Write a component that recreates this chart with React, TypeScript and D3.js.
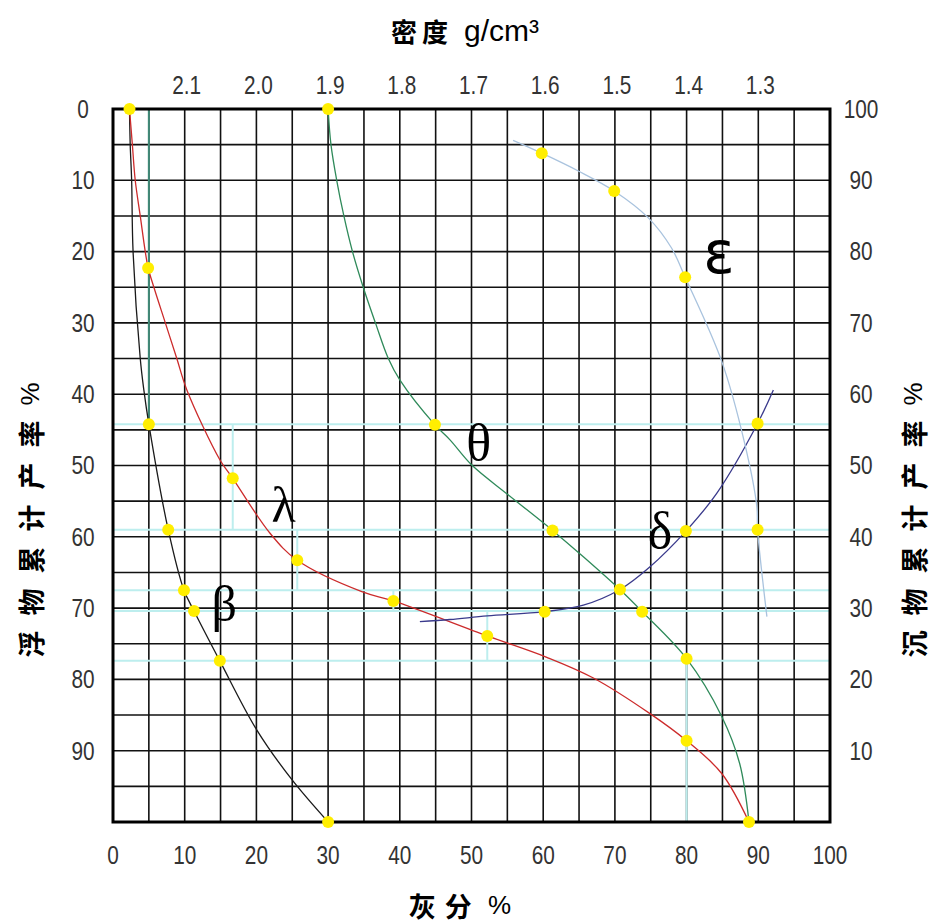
import React, { useEffect, useRef } from "react";
import * as d3 from "d3";

// axis ticks
const ashTicks = [0, 10, 20, 30, 40, 50, 60, 70, 80, 90, 100];
const floatTicks = [0, 10, 20, 30, 40, 50, 60, 70, 80, 90];
const sinkTicks = [100, 90, 80, 70, 60, 50, 40, 30, 20, 10];
const densityTicks = [2.1, 2.0, 1.9, 1.8, 1.7, 1.6, 1.5, 1.4, 1.3];

// curves: [ash %, float yield %]
const betaCurve = [
  [2.3, 0], [2.4, 5], [2.6, 10], [2.8, 20], [3.8, 35], [4.3, 39.4], [5, 44.2],
  [7.7, 59], [9.9, 67.5], [11.3, 70.4], [14.9, 77.4], [20, 87], [24.9, 94], [30, 100],
];
const lambdaCurve = [
  [2.3, 0], [2.7, 5], [3.1, 10], [3.8, 15], [4.5, 20], [4.9, 22.3], [5.7, 25],
  [7.3, 30], [8.9, 35], [10.3, 39.4], [14.9, 49.2], [16.7, 51.8], [21.9, 59.5],
  [25.7, 63.3], [34.7, 67.7], [39.1, 69], [52.2, 73.9], [60.5, 76.9], [67, 79.8],
  [74.9, 84.8], [80, 88.6], [84.9, 93.2], [88.7, 100],
];
const thetaCurve = [
  [30, 0], [30.4, 5], [31.2, 10], [32.2, 15], [33.4, 20], [34.9, 25], [36.6, 30],
  [38.4, 35], [40, 38], [44.9, 44.3], [47, 46.4], [50, 49.9], [55.1, 54.1],
  [61.3, 59.1], [65.6, 62.8], [70.7, 67.4], [73.8, 70.5], [80, 77.1], [84.9, 85.2],
  [87.4, 91.8], [88.7, 100],
];
const deltaCurve = [
  [42.8, 71.9], [47, 71.6], [52.2, 71.1], [60.2, 70.5], [65.6, 69.6], [70.7, 67.4],
  [74.9, 64.2], [79.9, 59.2], [84.2, 53.9], [89.9, 44.1], [92.1, 39.4],
];
const epsilonCurve = [
  [55.8, 4.4], [59.8, 6.2], [64.9, 8.7], [69.9, 11.5], [74.7, 15.3], [77.9, 19.5],
  [79.8, 23.6], [84.9, 35.4], [88.1, 46.9], [89.8, 55.8], [89.9, 59], [91.2, 71.2],
];

// yellow markers
const markers = [
  [2.3, 0], [5, 44.2], [7.7, 59], [9.9, 67.5], [11.3, 70.4], [14.9, 77.4], [30, 100],
  [4.9, 22.3], [16.7, 51.8], [25.7, 63.3], [39.1, 69], [52.2, 73.9], [80, 88.6], [88.7, 100],
  [30, 0], [44.9, 44.3], [61.3, 59.1], [70.7, 67.4], [73.8, 70.5], [80, 77.1],
  [60.2, 70.5], [79.9, 59.2], [89.9, 44.1],
  [59.8, 6.2], [69.9, 11.5], [79.8, 23.6], [89.9, 59],
];

// light cyan construction lines
const guideRows = [44.2, 59.0, 67.5, 70.4, 77.4];
const guideCols = [
  [16.7, 44.2, 59], [25.7, 59, 67.5], [39.1, 67.5, 70.4], [52.2, 70.4, 77.4], [80, 77.4, 100],
];
const firstCol = [5, 0, 44.2];

const series = [
  { name: "beta", points: betaCurve, color: "#1a1a1a" },
  { name: "lambda", points: lambdaCurve, color: "#cc2b2b" },
  { name: "theta", points: thetaCurve, color: "#2f8a5a" },
  { name: "delta", points: deltaCurve, color: "#3a3a8c" },
  { name: "epsilon", points: epsilonCurve, color: "#a9c3de" },
];

const curveLabels = [
  { text: "β", x: 15.5, y: 71.8, font: "Liberation Serif", size: 50 },
  { text: "λ", x: 23.8, y: 57.9, font: "Liberation Serif", size: 50 },
  { text: "θ", x: 51, y: 49.2, font: "Liberation Serif", size: 52 },
  { text: "δ", x: 76.3, y: 61.6, font: "Liberation Serif", size: 52 },
  { text: "ε", x: 84.5, y: 23, font: "DejaVu Sans", size: 58 },
];

const W = 935;
const H = 923;
const margin = { top: 109, right: 105, bottom: 101, left: 113 };
const tickFont = "'Liberation Sans', Arial, sans-serif";
const cjkFont = "'Noto Sans CJK SC', sans-serif";

const App = () => {
  const ref = useRef(null);

  useEffect(() => {
    const svg = d3.select(ref.current);
    svg.selectAll("*").remove();

    const x = d3.scaleLinear().domain([0, 100]).range([margin.left, W - margin.right]);
    const y = d3.scaleLinear().domain([0, 100]).range([margin.top, H - margin.bottom]);
    const ySink = d3.scaleLinear().domain([100, 0]).range([margin.top, H - margin.bottom]);
    const xDensity = d3.scaleLinear().domain([2.2, 1.2]).range([margin.left, W - margin.right]);

    svg.append("rect").attr("width", W).attr("height", H).attr("fill", "#fff");

    // grid
    const grid = svg.append("g").attr("stroke", "#111").attr("stroke-width", 1.6);
    d3.range(5, 100, 5).forEach((v) => {
      grid.append("line").attr("x1", x(v)).attr("x2", x(v)).attr("y1", y(0)).attr("y2", y(100));
      grid.append("line").attr("x1", x(0)).attr("x2", x(100)).attr("y1", y(v)).attr("y2", y(v));
    });

    // construction lines
    const guides = svg.append("g").attr("stroke", "#bdeeee").attr("stroke-width", 2);
    guideRows.forEach((r) => {
      guides.append("line").attr("x1", x(0)).attr("x2", x(100)).attr("y1", y(r)).attr("y2", y(r));
    });
    guideCols.forEach(([c, a, b]) => {
      guides.append("line").attr("x1", x(c)).attr("x2", x(c)).attr("y1", y(a)).attr("y2", y(b));
    });
    svg.append("line")
      .attr("x1", x(firstCol[0])).attr("x2", x(firstCol[0]))
      .attr("y1", y(firstCol[1])).attr("y2", y(firstCol[2]))
      .attr("stroke", "#3f8a78").attr("stroke-width", 2);

    // border
    svg.append("rect")
      .attr("x", x(0)).attr("y", y(0))
      .attr("width", x(100) - x(0)).attr("height", y(100) - y(0))
      .attr("fill", "none").attr("stroke", "#000").attr("stroke-width", 3);

    // curves
    const line = d3.line()
      .x((d) => x(d[0]))
      .y((d) => y(d[1]))
      .curve(d3.curveCatmullRom.alpha(0.5));
    series.forEach((s) => {
      svg.append("path")
        .attr("d", line(s.points))
        .attr("fill", "none")
        .attr("stroke", s.color)
        .attr("stroke-width", 1.3);
    });

    svg.selectAll(".dot")
      .data(markers)
      .enter().append("circle")
      .attr("class", "dot")
      .attr("cx", (d) => x(d[0]))
      .attr("cy", (d) => y(d[1]))
      .attr("r", 6)
      .attr("fill", "#ffee00");

    // greek labels
    curveLabels.forEach((l) => {
      svg.append("text")
        .attr("x", x(l.x)).attr("y", y(l.y))
        .attr("text-anchor", "middle")
        .style("font-family", l.font)
        .style("font-size", l.size + "px")
        .attr("fill", "#000")
        .text(l.text);
    });

    // tick labels, narrow and thin like the original
    const tick = (px, py, label) => svg.append("text")
      .attr("transform", `translate(${px},${py}) scale(0.8,1)`)
      .style("font-family", tickFont)
      .style("font-size", "26px")
      .attr("fill", "#333")
      .attr("text-anchor", "middle")
      .attr("dominant-baseline", "central")
      .text(label);

    floatTicks.forEach((t) => tick(x(0) - 30, y(t), t));
    sinkTicks.forEach((t) => tick(x(100) + 31, ySink(t), t));
    ashTicks.forEach((t) => tick(x(t), y(100) + 33, t));
    densityTicks.forEach((t) => tick(xDensity(t) + 2, y(0) - 24, t.toFixed(1)));

    // axis titles
    const title = (sel) => sel
      .attr("fill", "#000")
      .attr("text-anchor", "middle")
      .attr("dominant-baseline", "central");

    const top = svg.append("text").attr("x", 465).attr("y", 30).call(title);
    top.append("tspan").style("font-family", cjkFont).style("font-weight", 700)
      .style("font-size", "26px").style("letter-spacing", "5px").text("密度 ");
    top.append("tspan").style("font-family", tickFont).style("font-size", "30px").text("g/cm³");

    const bottom = svg.append("text").attr("x", 460).attr("y", 905).call(title);
    bottom.append("tspan").style("font-family", cjkFont).style("font-weight", 700)
      .style("font-size", "27px").style("letter-spacing", "9px").text("灰分");
    bottom.append("tspan").style("font-family", tickFont).style("font-size", "26px").text(" %");

    [
      { label: "浮物累计产率", cx: 30, cy: 520 },
      { label: "沉物累计产率", cx: 913, cy: 520 },
    ].forEach((t) => {
      const g = svg.append("text")
        .attr("transform", `translate(${t.cx},${t.cy}) rotate(-90)`)
        .call(title);
      g.append("tspan").style("font-family", cjkFont).style("font-weight", 700)
        .style("font-size", "27px").style("letter-spacing", "15px").text(t.label);
      g.append("tspan").style("font-family", tickFont).style("font-size", "26px").text("%");
    });
  }, []);

  return (
    <svg
      ref={ref}
      width={W}
      height={H}
      style={{ position: "absolute", left: 0, top: 0, display: "block" }}
    />
  );
};

export default App;
